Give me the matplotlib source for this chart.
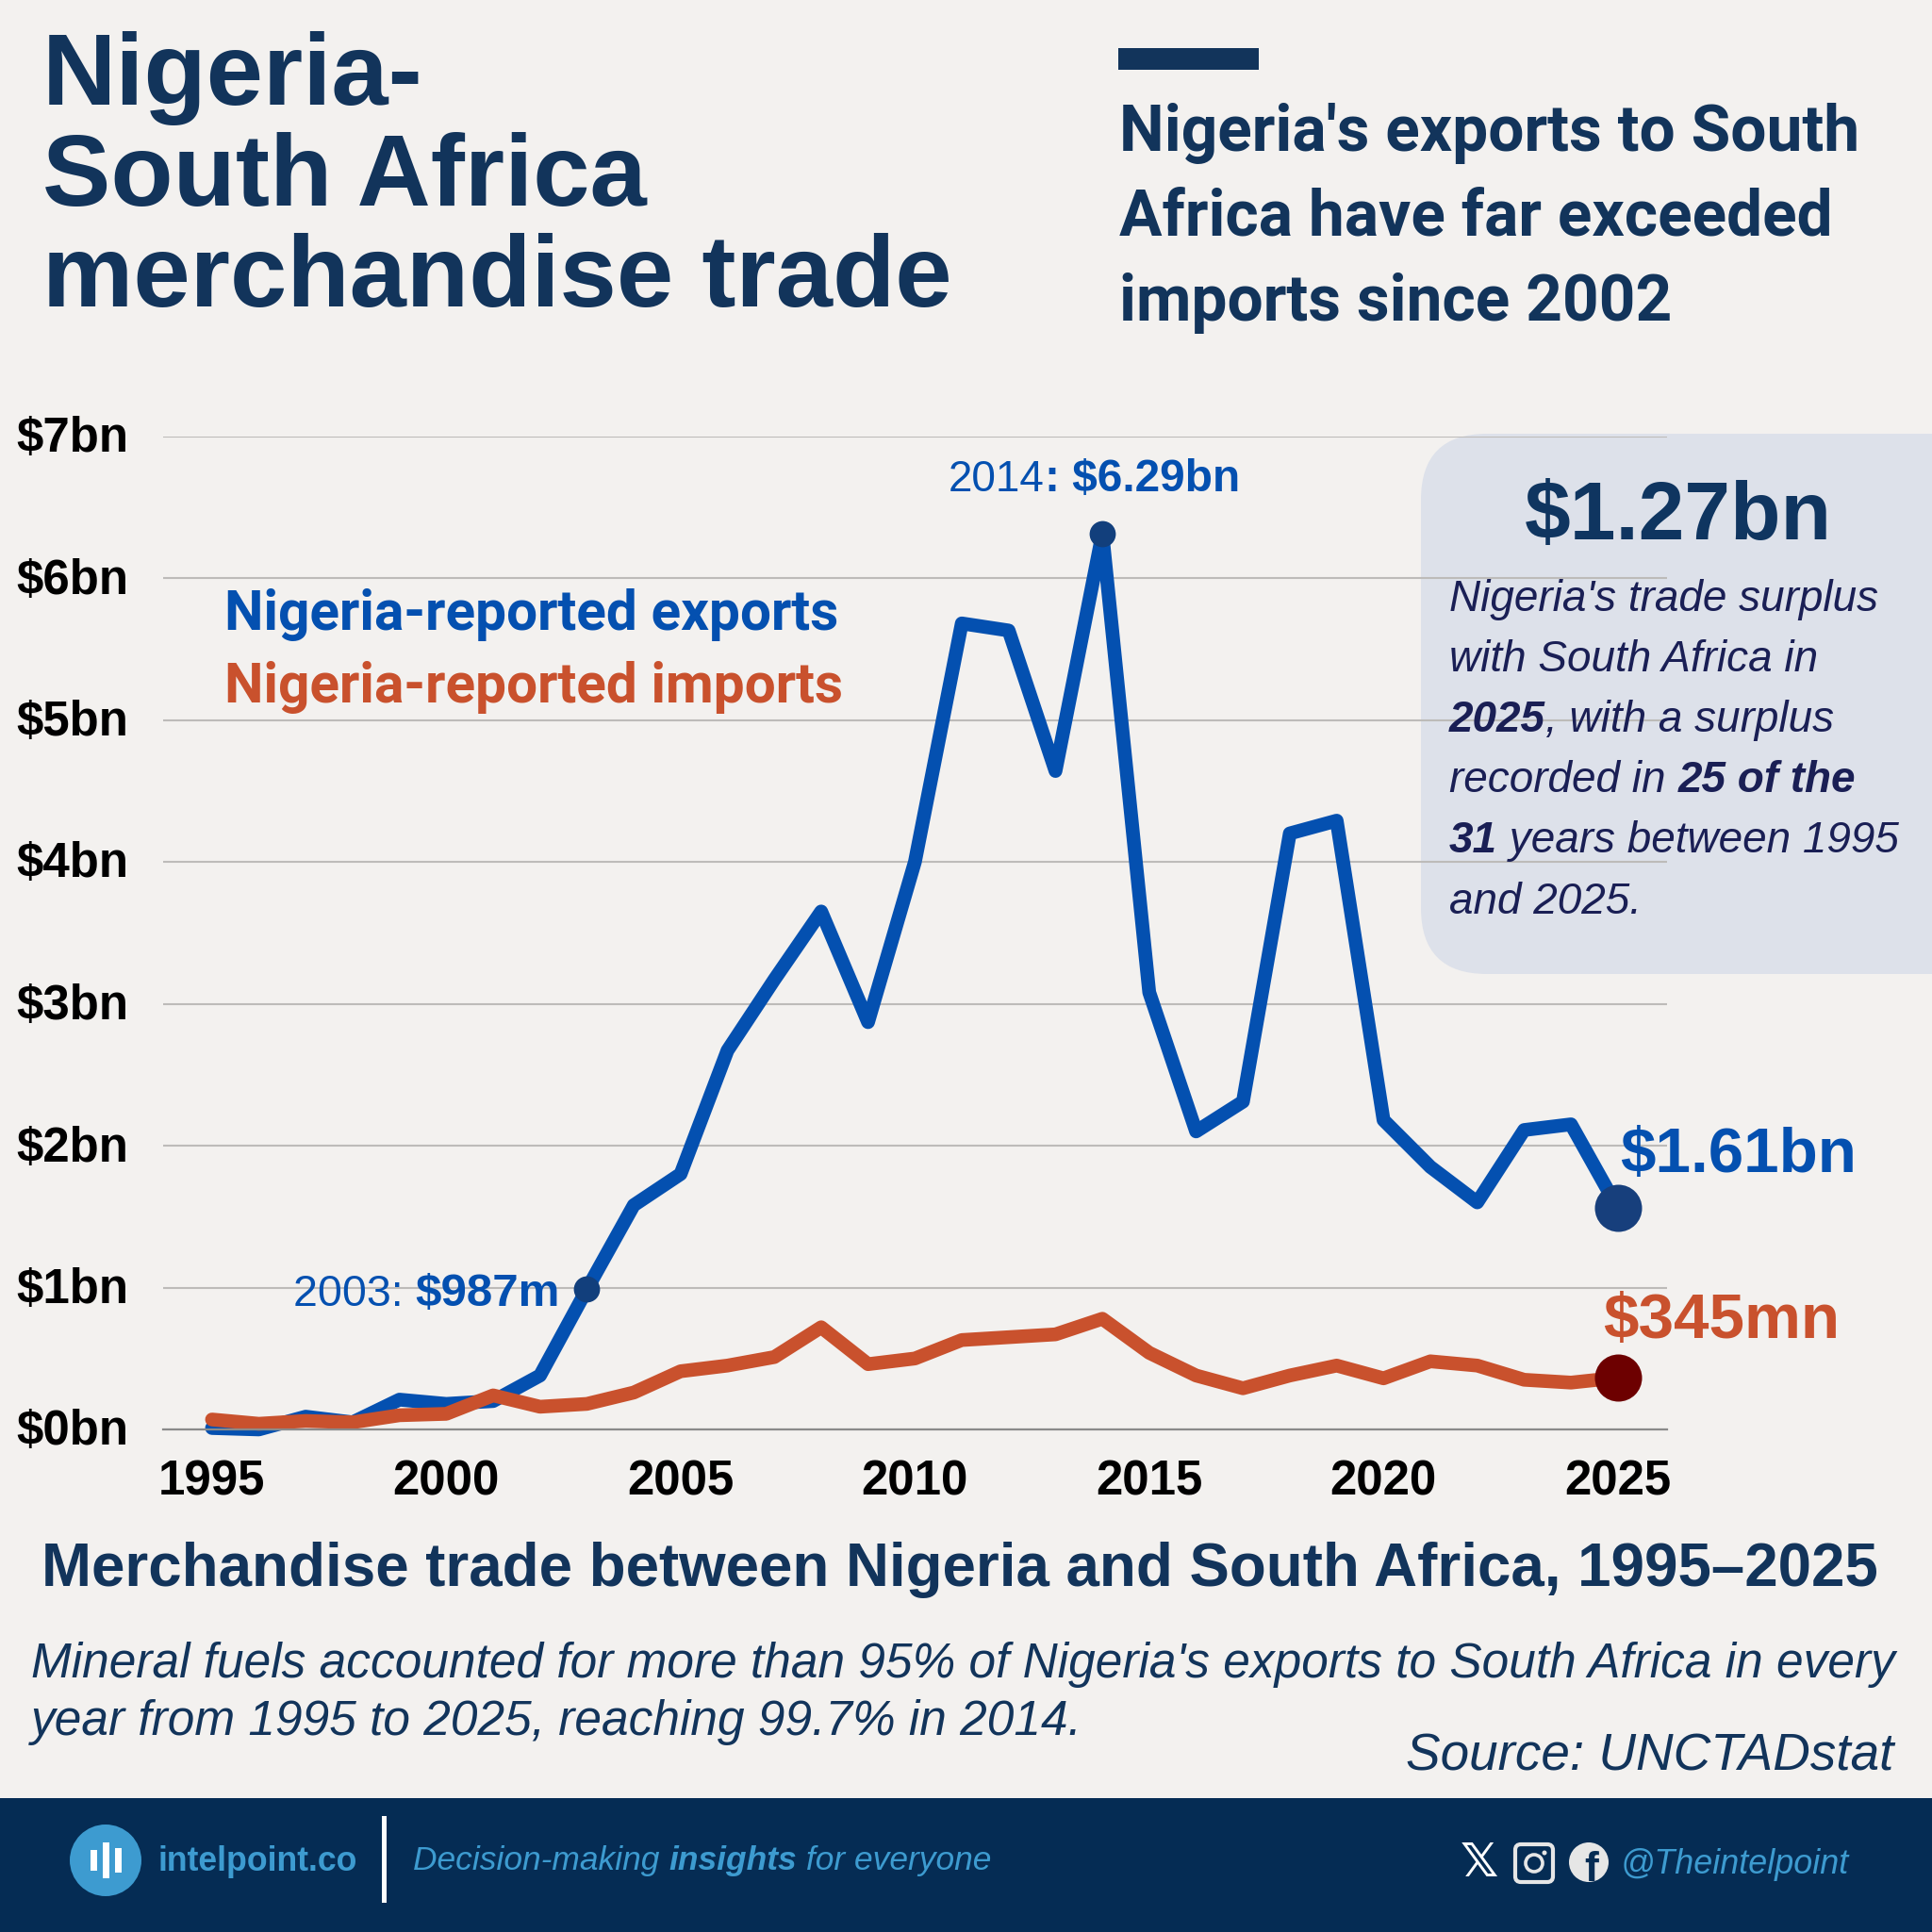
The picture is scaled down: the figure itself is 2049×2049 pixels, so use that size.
import matplotlib
matplotlib.use("Agg")
import matplotlib.pyplot as plt
from matplotlib.patches import FancyBboxPatch, Rectangle, Circle
from matplotlib.transforms import ScaledTranslation

years = list(range(1995, 2026))
exports = [0.01, 0.0, 0.09, 0.05, 0.21, 0.18, 0.2, 0.38, 0.987, 1.58, 1.8, 2.67, 3.17, 3.65, 2.87, 4.0,
           5.68, 5.63, 4.64, 6.31, 3.08, 2.1, 2.31, 4.2, 4.29, 2.18, 1.85, 1.6, 2.11, 2.15, 1.56]
imports = [0.07, 0.04, 0.06, 0.05, 0.1, 0.11, 0.24, 0.16, 0.18, 0.26, 0.41, 0.45, 0.51, 0.72, 0.46, 0.5,
           0.63, 0.65, 0.67, 0.78, 0.54, 0.38, 0.29, 0.38, 0.45, 0.36, 0.48, 0.45, 0.35, 0.33, 0.365]
y_ticks = [0, 1, 2, 3, 4, 5, 6, 7]
y_labels = ["$0bn", "$1bn", "$2bn", "$3bn", "$4bn", "$5bn", "$6bn", "$7bn"]
x_ticks = [1995, 2000, 2005, 2010, 2015, 2020, 2025]

SIZE = 2049
BG = "#f3f1ef"
NAVY = "#12345b"
FOOT = "#052c54"
BLUE = "#0450b0"
RED = "#c9512d"
SKY = "#3d9bd0"
ICON = "#e6e6e6"
SANS = "Liberation Sans"
HEAD = "Roboto"

plt.rcParams["font.family"] = SANS
plt.rcParams["text.parse_math"] = False

fig = plt.figure(figsize=(SIZE / 100, SIZE / 100), dpi=100, facecolor=BG)

# background layer in pixel coords, y going down
bg = fig.add_axes([0, 0, 1, 1], zorder=0)
bg.set_xlim(0, SIZE)
bg.set_ylim(SIZE, 0)
bg.axis("off")

# top layer for text and footer icons
top = fig.add_axes([0, 0, 1, 1], zorder=3)
top.set_xlim(0, SIZE)
top.set_ylim(SIZE, 0)
top.axis("off")
top.patch.set_alpha(0)


def txt(x, y, s, size, color=NAVY, weight="normal", style="normal", ha="left", family=SANS):
    return top.text(x, y, s, fontsize=size, color=color, fontweight=weight, fontstyle=style,
                    ha=ha, va="baseline", family=family)


def rich(x, y, parts, size, color, bsize=None):
    # mixed weights on one baseline, each piece placed after the last one
    r = fig.canvas.get_renderer()
    for s, weight, style in parts:
        fs = bsize if (bsize and weight == "bold") else size
        txt(x, y, s, fs, color, weight, style)
        probe = txt(0, 0, "|" + s + "|", fs, color, weight, style)
        bars = txt(0, 0, "||", fs, color, weight, style)
        x += probe.get_window_extent(r).width - bars.get_window_extent(r).width
        probe.remove()
        bars.remove()


# panel behind the chart
bg.add_patch(FancyBboxPatch((1507 + 70, 460 + 70), 700, 573 - 140, boxstyle="round,pad=70",
                            fc="#dde1ea", ec="none"))
bg.add_patch(Rectangle((1186, 51), 149, 23, fc=NAVY, ec="none"))

# chart
ax = fig.add_axes([172.5 / SIZE, 1 - 1516 / SIZE, (1768 - 172.5) / SIZE, (1516 - 462.5) / SIZE], zorder=2)
ax.patch.set_alpha(0)
ax.set_xlim(1993.947, 2026.05)
ax.set_ylim(0, 7)
for s in ax.spines.values():
    s.set_visible(False)
ax.spines["bottom"].set_visible(True)
ax.spines["bottom"].set_color("#8a8a8a")
ax.spines["bottom"].set_linewidth(1.6)
ax.set_yticks(y_ticks, y_labels)
ax.set_xticks(x_ticks, [str(v) for v in x_ticks])
ax.tick_params(length=0)
ax.tick_params(axis="y", pad=26, labelsize=36.7)
ax.tick_params(axis="x", pad=23, labelsize=36.7)
for lab in ax.get_xticklabels() + ax.get_yticklabels():
    lab.set_fontweight("bold")
    lab.set_color("black")
# y labels sit a little above their gridlines
nudge = ScaledTranslation(0, 1.8 / 72, fig.dpi_scale_trans)
for lab in ax.get_yticklabels():
    lab.set_transform(lab.get_transform() + nudge)
ax.grid(axis="y", color="#bdbbb9", lw=1.5)
ax.set_axisbelow(True)

ax.plot(years, exports, color=BLUE, lw=10.5, solid_joinstyle="round", solid_capstyle="round", clip_on=False)
ax.plot(years, imports, color=RED, lw=10.5, solid_joinstyle="round", solid_capstyle="round", clip_on=False)
ax.plot([2003, 2014], [exports[8], exports[19]], "o", color="#123f7c", ms=20, mew=0, clip_on=False)
ax.plot([2025], [exports[-1]], "o", color="#173f7c", ms=36, mew=0, clip_on=False)
ax.plot([2025], [imports[-1]], "o", color="#6d0000", ms=36, mew=0, clip_on=False)

# headline
txt(45, 111, "Nigeria-", 78, weight="bold")
txt(45, 218, "South Africa", 78, weight="bold")
txt(45, 325, "merchandise trade", 78, weight="bold")
txt(1187, 160, "Nigeria's exports to South", 48.7, weight="bold", family=HEAD)
txt(1187, 250, "Africa have far exceeded", 48.7, weight="bold", family=HEAD)
txt(1187, 340, "imports since 2002", 48.7, weight="bold", family=HEAD)

# legend and point labels
txt(238, 668, "Nigeria-reported exports", 42.2, BLUE, "bold", family=HEAD)
txt(238, 745, "Nigeria-reported imports", 42.2, RED, "bold", family=HEAD)
rich(1006, 521, [("2014", "normal", "normal"), (":", "bold", "normal"), (" $6.29bn", "bold", "normal")], 33, BLUE, bsize=34.5)
rich(311, 1385, [("2003: ", "normal", "normal"), ("$987m", "bold", "normal")], 33.5, BLUE, bsize=35.5)
txt(1718, 1243, "$1.61bn", 48.5, BLUE, "bold")
txt(1700, 1419, "$345mn", 48.5, RED, "bold")

# panel text
PANEL = "#1a1f55"
txt(1617, 572, "$1.27bn", 63, "#0f3560", "bold")
N, I, B = "normal", "italic", "bold"
rich(1537, 648, [("Nigeria's trade surplus", N, I)], 33, PANEL)
rich(1537, 712, [("with South Africa in", N, I)], 33, PANEL)
rich(1537, 776, [("2025", B, I), (", with a surplus", N, I)], 33, PANEL)
rich(1537, 840, [("recorded in ", N, I), ("25 of the", B, I)], 33, PANEL)
rich(1537, 904, [("31", B, I), (" years between 1995", N, I)], 33, PANEL)
rich(1537, 969, [("and 2025.", N, I)], 33, PANEL)

# subtitle block
txt(44, 1682, "Merchandise trade between Nigeria and South Africa, 1995\u20132025", 45.8, weight="bold")
txt(33, 1779, "Mineral fuels accounted for more than 95% of Nigeria's exports to South Africa in every", 37, style="italic")
txt(33, 1840, "year from 1995 to 2025, reaching 99.7% in 2014.", 37, style="italic")
txt(2008, 1877, "Source: UNCTADstat", 39.5, style="italic", ha="right")

# footer
top.add_patch(Rectangle((0, 1907), SIZE, SIZE - 1907, fc=FOOT, ec="none"))
top.add_patch(Circle((112, 1973), 38, fc=SKY, ec="none"))
for bx, bh in [(99, 22), (112, 38), (125, 26)]:
    top.add_patch(Rectangle((bx - 3.5, 1973 - bh / 2), 7, bh, fc="white", ec="none"))
txt(168, 1984, "intelpoint.co", 25.7, SKY, "bold")
top.add_patch(Rectangle((405, 1926), 5, 92, fc="white", ec="none"))
rich(438, 1983, [("Decision-making ", N, I), ("insights", B, I), (" for everyone", N, I)], 25.5, SKY)
txt(1549, 1990, "\U0001D54F", 36, "white", "bold", family="DejaVu Sans")
top.add_patch(FancyBboxPatch((1613, 1962), 28, 28, boxstyle="round,pad=6", fc="none", ec=ICON, lw=3))
top.add_patch(Circle((1627, 1976), 9, fc="none", ec=ICON, lw=2.6))
top.add_patch(Circle((1638, 1965), 2.5, fc=ICON, ec="none"))
top.add_patch(Circle((1685, 1975), 21, fc=ICON, ec="none"))
top.text(1688, 1995, "f", fontsize=32, color=FOOT, fontweight="bold", ha="center", va="baseline")
txt(1719, 1987, "@Theintelpoint", 25.8, SKY, style="italic")

fig.savefig("out.png", dpi=100, facecolor=BG)
plt.close(fig)
